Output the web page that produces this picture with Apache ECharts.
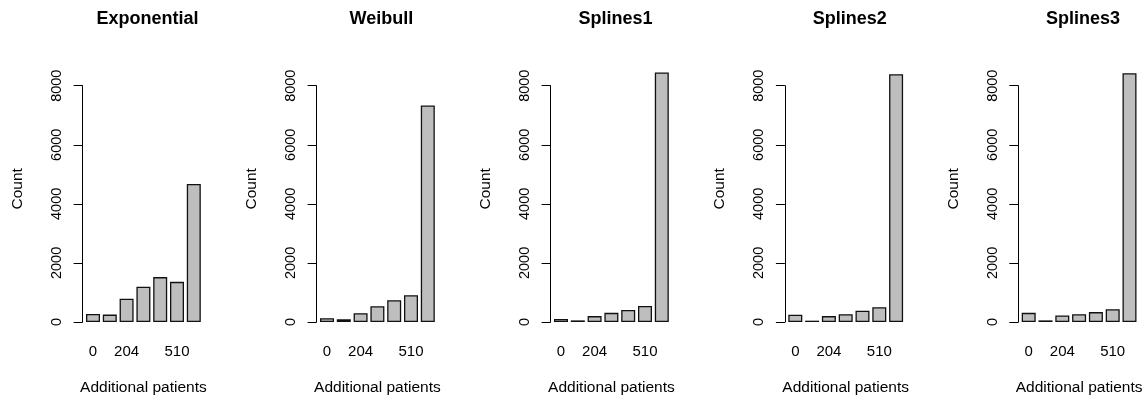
<!DOCTYPE html>
<html>
<head>
<meta charset="utf-8">
<script src="https://cdn.jsdelivr.net/npm/echarts@6/dist/echarts.min.js"></script>
<style>
html, body { margin: 0; padding: 0; background: #fff; }
#chart { width: 1147px; height: 401px; }
</style>
</head>
<body>
<div id="chart"></div>
<script>
// bar names (only the ones R could fit are shown)
var categories = ['0', '', '204', '', '', '510', '']
var panelTitles = ['Exponential', 'Weibull', 'Splines1', 'Splines2', 'Splines3']
var yTicks = [0, 2000, 4000, 6000, 8000]

var exponential = [270, 250, 790, 1195, 1520, 1360, 4670]
var weibull = [130, 90, 300, 535, 735, 905, 7330]
var splines1 = [100, 55, 200, 310, 410, 545, 8450]
var splines2 = [245, 45, 200, 265, 380, 500, 8390]
var splines3 = [310, 55, 220, 265, 335, 435, 8425]
var panelData = [exponential, weibull, splines1, splines2, splines3]

var font = 'Liberation Sans, Arial, Helvetica, sans-serif'
var gridLefts = [84.6, 318.6, 552.6, 786.9, 1020.3]
var gridWidth = 117.6
var gridTop = 85.7
var gridHeight = 238.6

var grids = []
var xAxes = []
var yAxes = []
var series = []
var titles = []

for (var i = 0; i < panelData.length; i++) {
  grids.push({ left: gridLefts[i], top: gridTop, width: gridWidth, height: gridHeight })
  titles.push({
    text: panelTitles[i],
    left: gridLefts[i] + gridWidth / 2 - 1,
    top: 5,
    textAlign: 'center',
    textVerticalAlign: 'top',
    textStyle: { fontFamily: font, fontSize: 18, fontWeight: 'bold', color: '#000' }
  })
  xAxes.push({
    type: 'category',
    gridIndex: i,
    data: categories,
    axisLine: { show: false },
    axisTick: { show: false },
    axisLabel: { interval: 0, margin: 22, fontFamily: font, fontSize: 15, color: '#000' },
    name: 'Additional patients',
    nameLocation: 'middle',
    nameGap: 58,
    nameTextStyle: { fontFamily: font, fontSize: 15.5, color: '#000' }
  })
  yAxes.push({
    type: 'value',
    gridIndex: i,
    min: yTicks[0],
    max: yTicks[yTicks.length - 1],
    interval: 2000,
    offset: 2,
    axisLine: { show: true, lineStyle: { color: '#000', width: 1 } },
    axisTick: { show: true, length: 9, lineStyle: { color: '#000' } },
    splitLine: { show: false },
    axisLabel: {
      rotate: 90,
      margin: 18,
      fontFamily: font,
      fontSize: 14.5,
      color: '#000',
      formatter: function (v) { return String(v) }
    },
    name: 'Count',
    nameLocation: 'middle',
    nameRotate: 90,
    nameGap: 57,
    nameTextStyle: { fontFamily: font, fontSize: 15.5, color: '#000', padding: [0, 0, 0, 30] }
  })
  series.push({
    type: 'bar',
    xAxisIndex: i,
    yAxisIndex: i,
    data: panelData[i],
    barCategoryGap: '16.67%',
    clip: false,
    itemStyle: { color: '#bebebe', borderColor: '#111', borderWidth: 1.3 }
  })
}

var myChart = echarts.init(document.getElementById('chart'))
myChart.setOption({
  animation: false,
  title: titles,
  grid: grids,
  xAxis: xAxes,
  yAxis: yAxes,
  series: series
})
</script>
</body>
</html>
